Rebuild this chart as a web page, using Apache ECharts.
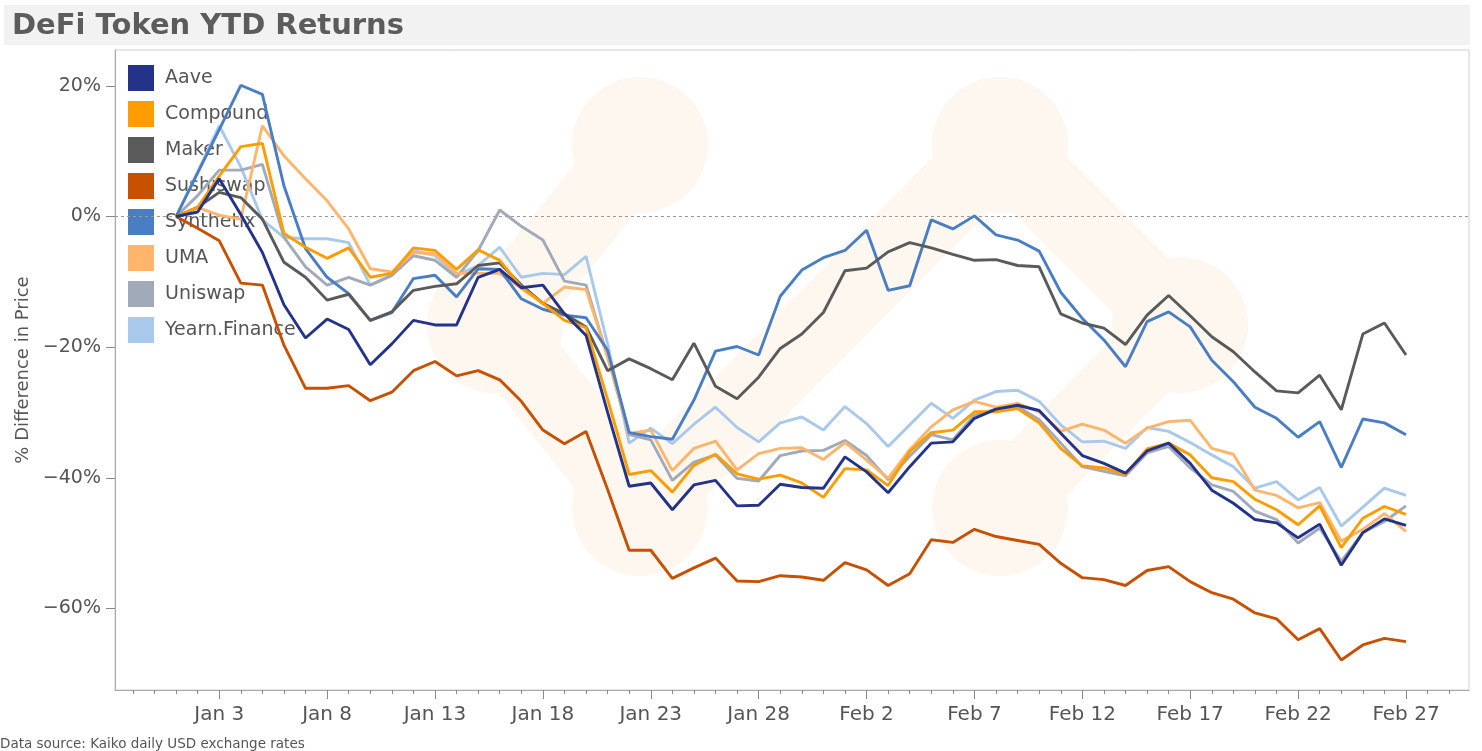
<!DOCTYPE html>
<html>
<head>
<meta charset="utf-8">
<script src="https://cdn.jsdelivr.net/npm/echarts@6/dist/echarts.min.js"></script>
<style>
  html, body { margin: 0; padding: 0; background: #fff; }
  #chart { width: 1482px; height: 751px; }
</style>
</head>
<body>
<div id="chart"></div>
<script>
// days since Jan 1 -> label
var dates = ['Jan 1', 'Jan 2', 'Jan 3', 'Jan 4', 'Jan 5', 'Jan 6', 'Jan 7', 'Jan 8', 'Jan 9', 'Jan 10',
  'Jan 11', 'Jan 12', 'Jan 13', 'Jan 14', 'Jan 15', 'Jan 16', 'Jan 17', 'Jan 18', 'Jan 19', 'Jan 20',
  'Jan 21', 'Jan 22', 'Jan 23', 'Jan 24', 'Jan 25', 'Jan 26', 'Jan 27', 'Jan 28', 'Jan 29', 'Jan 30',
  'Jan 31', 'Feb 1', 'Feb 2', 'Feb 3', 'Feb 4', 'Feb 5', 'Feb 6', 'Feb 7', 'Feb 8', 'Feb 9',
  'Feb 10', 'Feb 11', 'Feb 12', 'Feb 13', 'Feb 14', 'Feb 15', 'Feb 16', 'Feb 17', 'Feb 18', 'Feb 19',
  'Feb 20', 'Feb 21', 'Feb 22', 'Feb 23', 'Feb 24', 'Feb 25', 'Feb 26', 'Feb 27']

var labelDays = [2, 7, 12, 17, 22, 27, 32, 37, 42, 47, 52, 57]
var yTicks = [-60, -40, -20, 0, 20]

var tokens = ['Aave', 'Compound', 'Maker', 'Sushiswap', 'Synthetix', 'UMA', 'Uniswap', 'Yearn.Finance']

var aave = [0, 0.7, 5.8, 0.3, -5.5, -13.5, -18.6, -15.7, -17.3, -22.7,
  -19.5, -15.9, -16.6, -16.6, -9.3, -8.1, -10.9, -10.5, -14.9, -18.2,
  -30, -41.3, -40.8, -44.9, -41.1, -40.4, -44.3, -44.2, -41, -41.5,
  -41.6, -36.8, -39.1, -42.3, -38.3, -34.7, -34.5, -30.9, -29.5, -28.9,
  -29.7, -33.2, -36.6, -37.8, -39.3, -35.9, -34.7, -37.8, -41.9, -43.9,
  -46.4, -46.9, -49.2, -47.1, -53.4, -48.4, -46.3, -47.3]
var compound = [0, 1.4, 6.2, 10.7, 11.2, -2.6, -4.7, -6.4, -4.8, -9.3,
  -8.7, -4.8, -5.2, -8.1, -5.1, -6.7, -10.8, -13.3, -15.9, -17,
  -28, -39.5, -38.9, -42.2, -38.1, -36.4, -39.4, -40.2, -39.6, -40.8,
  -43, -38.6, -38.8, -41.2, -36, -33.1, -32.7, -29.9, -29.9, -29.4,
  -31.6, -35.5, -38.2, -38.5, -39.5, -35.6, -34.7, -36.5, -40, -40.6,
  -43.3, -44.9, -47.2, -44.3, -50.7, -46.2, -44.4, -45.6]
var maker = [0, 1.4, 3.7, 2.9, -0.4, -7, -9.3, -12.8, -11.9, -15.9,
  -14.6, -11.3, -10.7, -10.3, -7.5, -7.1, -10.5, -13.3, -14.9, -16.9,
  -23.6, -21.8, -23.3, -25, -19.4, -26, -27.9, -24.6, -20.2, -18,
  -14.7, -8.3, -7.9, -5.4, -4, -4.8, -5.8, -6.7, -6.6, -7.5,
  -7.7, -14.9, -16.3, -17.1, -19.6, -15.1, -12.1, -15.2, -18.4, -20.7,
  -23.8, -26.7, -27, -24.3, -29.6, -18, -16.3, -21.2]
var sushiswap = [0, -1.8, -3.7, -10.2, -10.5, -19.7, -26.3, -26.3, -25.9, -28.2,
  -26.9, -23.6, -22.2, -24.4, -23.6, -25, -28.3, -32.7, -34.8, -32.9,
  -41.8, -51.1, -51.1, -55.4, -53.8, -52.3, -55.8, -55.9, -55, -55.2,
  -55.7, -53, -54.1, -56.5, -54.7, -49.5, -49.9, -47.9, -49, -49.6,
  -50.2, -53.1, -55.3, -55.6, -56.5, -54.2, -53.6, -55.9, -57.6, -58.6,
  -60.7, -61.6, -64.8, -63.1, -67.9, -65.6, -64.6, -65.1]
var synthetix = [0, 6.7, 13.3, 20.1, 18.7, 4.7, -4.9, -9.3, -11.8, -15.9,
  -14.7, -9.5, -9, -12.3, -8, -8.1, -12.6, -14.2, -15.1, -15.5,
  -20.5, -33.1, -33.7, -34.1, -28.1, -20.6, -19.9, -21.2, -12.2, -8.2,
  -6.3, -5.2, -2.1, -11.3, -10.6, -0.5, -1.9, 0.1, -2.8, -3.6,
  -5.3, -11.6, -15.6, -18.9, -23, -16.1, -14.6, -16.9, -22, -25.3,
  -29.2, -30.9, -33.8, -31.4, -38.4, -31, -31.6, -33.4]
var uma = [0, 1.4, 0.2, -0.4, 13.9, 9.3, 5.8, 2.4, -1.9, -8,
  -8.5, -5.5, -5.7, -8.7, -8.7, -8.7, -11, -13.3, -10.8, -11.2,
  -21.5, -33.2, -32.7, -38.9, -35.5, -34.4, -38.8, -36.3, -35.5, -35.4,
  -37.2, -34.6, -37.3, -40.1, -35.7, -32.2, -29.6, -28.3, -29.2, -28.6,
  -29.9, -32.9, -31.8, -32.7, -34.7, -32.4, -31.4, -31.2, -35.5, -36.4,
  -41.9, -42.7, -44.6, -43.8, -49.7, -47.9, -45.5, -48.2]
var uniswap = [0, 3.2, 7.1, 7.1, 8, -3.2, -7.7, -10.5, -9.3, -10.5,
  -9, -6, -6.7, -9.3, -5.2, 1, -1.5, -3.6, -9.9, -10.5,
  -21.5, -33.4, -34.2, -40.4, -37.6, -36.5, -40.1, -40.5, -36.6, -35.9,
  -35.8, -34.3, -36.6, -40.3, -36.7, -33.4, -34.2, -30.4, -29.5, -29.1,
  -31.1, -34.7, -38.3, -39, -39.7, -36.2, -35.2, -38.5, -41.1, -42.1,
  -45.1, -46.4, -50, -47.7, -52.8, -48.4, -46.7, -44.3]
var yearn = [0, 6.8, 13.9, 7.6, -0.5, -3.2, -3.4, -3.4, -4, -10.5,
  -9, -5.2, -6, -9, -7.5, -4.7, -9.3, -8.7, -8.9, -6.1,
  -19.5, -34.7, -32.4, -34.8, -31.8, -29.2, -32.3, -34.5, -31.6, -30.7,
  -32.7, -29.1, -31.7, -35.2, -31.9, -28.6, -30.9, -28.1, -26.8, -26.6,
  -28.3, -31.9, -34.5, -34.4, -35.5, -32.3, -32.9, -34.6, -36.5, -38.3,
  -41.6, -40.6, -43.4, -41.5, -47.4, -44.5, -41.6, -42.7]

var values = [aave, compound, maker, sushiswap, synthetix, uma, uniswap, yearn]
var colors = ['#23338a', '#ff9c00', '#5a5a5a', '#c75100', '#4a7ec4', '#ffb56b', '#a0aab8', '#a9c9ec']

var dayTicks = []
for (var d = -2; d <= 59; d++) dayTicks.push(d)

var xMin = -2.83
var xMax = 59.92

// faint logo watermark behind the plot
var wmColor = '#fef7f0'
var wmDots = [[640, 145], [495, 325], [640, 508], [1000, 145], [1180, 325], [1000, 508]]
var wmLinks = [[0, 1], [1, 2], [2, 3], [3, 4], [4, 5]]
var watermark = []
wmLinks.forEach(function (l) {
  var a = wmDots[l[0]], b = wmDots[l[1]]
  watermark.push({
    type: 'line', z: 0, silent: true,
    shape: { x1: a[0], y1: a[1], x2: b[0], y2: b[1] },
    style: { stroke: wmColor, lineWidth: 78, lineCap: 'round' }
  })
})
wmDots.forEach(function (p) {
  watermark.push({
    type: 'circle', z: 0, silent: true,
    shape: { cx: p[0], cy: p[1], r: 68 },
    style: { fill: wmColor }
  })
})

var series = []
// draw in reverse so Aave ends up on top
for (var i = tokens.length - 1; i >= 0; i--) {
  series.push({
    name: tokens[i],
    type: 'line',
    data: values[i].map(function (v, k) { return [k, v] }),
    symbol: 'none',
    lineStyle: { width: 2.9, color: colors[i] },
    itemStyle: { color: colors[i] },
    z: 3 + (tokens.length - i)
  })
}
series.push({
  name: 'zero',
  type: 'line',
  data: [],
  markLine: {
    silent: true,
    symbol: 'none',
    label: { show: false },
    lineStyle: { type: [3, 3], color: '#9a9a9a', width: 1 },
    data: [{ yAxis: 0 }]
  },
  z: 2
})

var myChart = echarts.init(document.getElementById('chart'))
myChart.setOption({
  animation: false,
  textStyle: { fontFamily: 'DejaVu Sans' },
  title: [
    {
      text: 'DeFi Token YTD Returns',
      left: 12,
      top: 12,
      padding: 0,
      textStyle: { fontSize: 29, fontWeight: 'bold', color: '#5c5c5c', fontFamily: 'DejaVu Sans' }
    },
    {
      text: 'Data source: Kaiko daily USD exchange rates',
      left: 0,
      top: 737,
      padding: 0,
      textStyle: { fontSize: 13.5, fontWeight: 'normal', color: '#555', fontFamily: 'DejaVu Sans' }
    }
  ],
  graphic: [
    {
      type: 'rect',
      z: 0,
      silent: true,
      shape: { x: 4, y: 5, width: 1466, height: 40 },
      style: { fill: '#f2f2f2' }
    }
  ].concat(watermark),
  legend: {
    data: tokens,
    orient: 'vertical',
    left: 128,
    top: 65,
    padding: 0,
    itemWidth: 26,
    itemHeight: 26,
    itemGap: 10,
    icon: 'rect',
    z: 1,
    textStyle: { fontSize: 19, color: '#555', padding: [0, 0, 0, 6] }
  },
  grid: {
    left: 115,
    right: 13,
    top: 50,
    bottom: 61,
    show: true,
    borderColor: '#cfcfcf',
    borderWidth: 1
  },
  xAxis: [
    {
      type: 'value',
      min: xMin,
      max: xMax,
      axisLine: { onZero: false, lineStyle: { color: '#a8a8a8' } },
      splitLine: { show: false },
      axisTick: { customValues: dayTicks, length: 4, lineStyle: { color: '#888' } },
      axisLabel: {
        customValues: labelDays,
        margin: 15,
        fontSize: 20,
        color: '#555',
        formatter: function (v) { return dates[v] }
      }
    },
    {
      type: 'value',
      min: xMin,
      max: xMax,
      position: 'bottom',
      axisLine: { show: false, onZero: false },
      splitLine: { show: false },
      axisTick: { customValues: labelDays, length: 9, lineStyle: { color: '#888' } },
      axisLabel: { show: false }
    }
  ],
  yAxis: {
    type: 'value',
    min: -72.5,
    max: 25.5,
    name: '% Difference in Price',
    nameLocation: 'middle',
    nameGap: 82,
    nameTextStyle: { fontSize: 18, color: '#555' },
    axisLine: { show: true, onZero: false, lineStyle: { color: '#a8a8a8' } },
    splitLine: { show: false },
    axisTick: { show: true, customValues: yTicks, length: 9, lineStyle: { color: '#888' } },
    axisLabel: {
      customValues: yTicks,
      margin: 14,
      fontSize: 19,
      color: '#555',
      formatter: function (v) { return (v < 0 ? '\u2212' + (-v) : v) + '%' }
    }
  },
  series: series
})
</script>
</body>
</html>
